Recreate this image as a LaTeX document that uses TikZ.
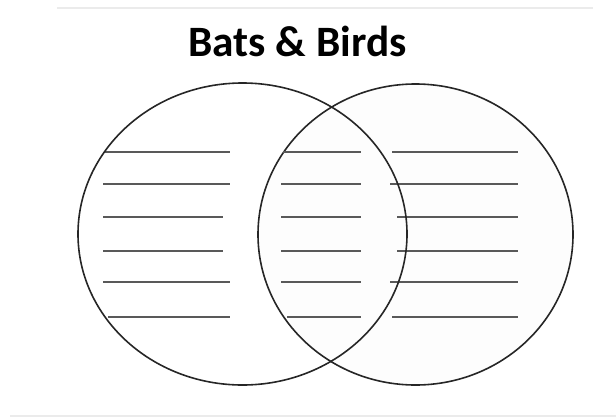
\documentclass[tikz,border=0pt]{standalone}
\usepackage{fontspec}
\setmainfont{Carlito}
\usepackage{xcolor}
\usetikzlibrary{positioning}

\begin{document}
\begin{tikzpicture}[x=0.75pt, y=-0.75pt,
      ring/.style={draw=black!85, line width=1.2pt},
      wline/.style={draw=black!65, line width=0.8pt},
      rule/.style={draw=black!8, line width=1.1pt},
      ttl/.style={font=\bfseries\fontsize{32.5}{36}\selectfont, inner sep=0pt, anchor=base}]
    \useasboundingbox (0,0) rectangle (616,418);
    \draw[rule] (57,8) -- (593,8);
    \draw[rule] (10,416) -- (616,416);
    \node[ttl] (title) at (297.5,56) {Bats \& Birds};
    % the two sets
    \draw[ring, fill=black!0.7] (415.5,234.5) ellipse [x radius=157.5, y radius=150.5];
    % writing lines: y, left part, middle part, right part
    \foreach \y/\la/\lb/\ma/\mb/\ra in {152/105/230/283/361/392, 184/103/230/281/361/390,
                                       217/103/223/281/361/397, 251/103/223/281/361/397,
                                       282/103/230/281/361/390, 317/108/230/287/361/392} {
      \draw[wline] (\la,\y) -- (\lb,\y);
      \draw[wline] (\ma,\y) -- (\mb,\y);
      \draw[wline] (\ra,\y) -- (518,\y);
    }
    \draw[ring] (242.5,234) ellipse [x radius=164.5, y radius=151];
  \end{tikzpicture}
\end{document}
